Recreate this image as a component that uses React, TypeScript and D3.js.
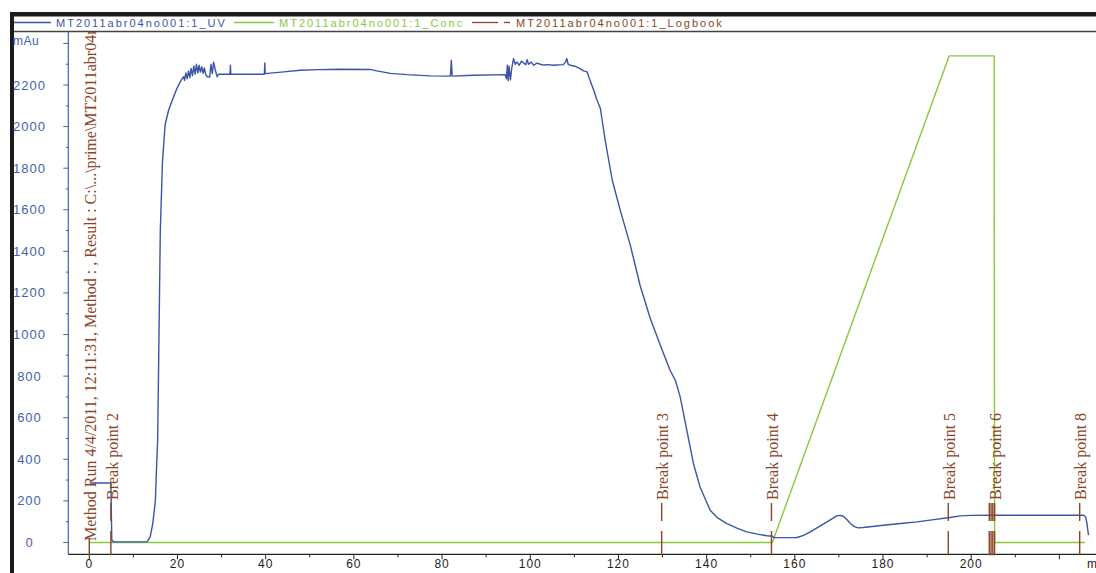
import React from 'react';
import * as d3 from 'd3';

// ---------- data ----------
const uvPoints: [number, number][] = [
  [0.2, 286], [4.9, 286], [5.0, 150], [5.1, 11], [5.6, 3], [13.1, 3], [13.8, 27], [14.4, 91],
  [15.0, 203], [15.2, 332], [15.5, 492], [15.7, 815], [15.9, 1150], [16.1, 1494], [16.6, 1833],
  [17.2, 2010], [18.0, 2080], [18.8, 2126], [19.8, 2180], [20.6, 2214], [21.0, 2228], [21.4, 2240],
  [21.6, 2222], [21.9, 2258], [22.2, 2230], [22.5, 2268], [22.8, 2236], [23.1, 2280], [23.4, 2245],
  [23.7, 2292], [24.0, 2252], [24.3, 2300], [24.6, 2258], [24.9, 2295], [25.2, 2262], [25.5, 2288],
  [25.8, 2256], [26.1, 2282], [26.4, 2250], [26.8, 2240], [27.3, 2238], [27.6, 2300], [27.9, 2255],
  [28.2, 2310], [28.6, 2270], [29.0, 2240], [29.3, 2252], [31.9, 2252], [32.0, 2295], [32.1, 2252],
  [39.7, 2252], [39.8, 2306], [39.9, 2255], [44.1, 2263], [47.8, 2271], [52.0, 2274], [56.9, 2276],
  [63.7, 2275], [65.2, 2268], [68.3, 2256], [72.0, 2250], [77.3, 2244], [81.9, 2243], [82.1, 2319],
  [82.3, 2243], [87.1, 2247], [94.3, 2250], [94.6, 2230], [94.8, 2295], [95.0, 2222], [95.2, 2290],
  [95.5, 2225], [95.8, 2280], [96.2, 2327], [96.6, 2300], [97.0, 2311], [97.5, 2295], [98.0, 2315],
  [98.5, 2305], [99.0, 2298], [99.3, 2322], [99.6, 2300], [100.2, 2310], [100.8, 2295], [101.5, 2305],
  [102.3, 2300], [103.0, 2296], [104.0, 2298], [105.3, 2295], [106.0, 2296], [107.5, 2298],
  [108.0, 2310], [108.3, 2327], [108.6, 2300], [109.1, 2295], [110.2, 2290], [111.3, 2279],
  [112.1, 2268], [112.9, 2263], [113.6, 2220], [114.4, 2175], [115.1, 2130], [115.9, 2087],
  [117.0, 1934], [118.6, 1742], [120.4, 1598], [122.7, 1429], [124.9, 1237], [127.2, 1078],
  [129.5, 949], [131.7, 828], [132.9, 780], [134.0, 700], [135.5, 540], [137.0, 380], [138.5, 267],
  [140.8, 155], [142.5, 118], [144.6, 91], [147.0, 68], [149.1, 51], [151.5, 40], [153.7, 32],
  [155.0, 30], [155.2, 24], [158.0, 23], [160.5, 24], [162.0, 34], [163.5, 51], [165.5, 76],
  [167.3, 99], [168.5, 115], [169.5, 128], [170.3, 130], [171.0, 126], [171.8, 110], [172.6, 91],
  [173.5, 76], [174.4, 70], [175.5, 72], [180.1, 83], [184.0, 91], [187.7, 99], [191.5, 110],
  [195.2, 120], [197.5, 128], [200.0, 130], [205.1, 131], [225.5, 131], [225.9, 124], [226.2, 98],
  [226.6, 35],
];

const concPoints: [number, number][] = [
  [0.2, 0], [154.9, 0], [195.0, 2340], [205.2, 2340], [205.3, 0], [225.8, 0],
];

const logTimes = [0, 4.9, 129.8, 154.7, 194.8, 204.1, 204.5, 204.9, 205.3, 224.6];
const logLabels = [
  'Method Run 4/4/2011, 12:11:31, Method : , Result : C:\\...\\prime\\MT2011abr04no001:1',
  'Break point 2', 'Break point 3', 'Break point 4', 'Break point 5',
  '', '', '', 'Break point 6', 'Break point 8',
];

const xMajorTicks = [0, 20, 40, 60, 80, 100, 120, 140, 160, 180, 200, 220];
const xLabelTicks = [0, 20, 40, 60, 80, 100, 120, 140, 160, 180, 200];
const xMinorTicks = [10, 30, 50, 70, 90, 110, 130, 150, 170, 190, 210];
const yMajorTicks = [0, 200, 400, 600, 800, 1000, 1200, 1400, 1600, 1800, 2000, 2200, 2400];
const yLabelTicks = [0, 200, 400, 600, 800, 1000, 1200, 1400, 1600, 1800, 2000, 2200];
const yMinorTicks = [100, 300, 500, 700, 900, 1100, 1300, 1500, 1700, 1900, 2100, 2300];

const legendNames = ['MT2011abr04no001:1_UV', 'MT2011abr04no001:1_Conc', 'MT2011abr04no001:1_Logbook'];
const yUnit = 'mAu';
const xUnit = 'ml';

// ---------- style ----------
const W = 1096;
const H = 573;
const BLUE = '#3b54a8';
const AXIS_BLUE = '#4462b2';
const GREEN = '#8cc63f';
const BROWN = '#8a4526';
const SANS = '"Liberation Sans", Arial, sans-serif';
const SERIF = '"Liberation Serif", "Times New Roman", serif';

export default function App() {
  const x = d3.scaleLinear().domain([-4.76, 228.3]).range([68.3, 1096]);
  const y = d3.scaleLinear().domain([-57, 2455]).range([554.3, 32]);
  const line = d3.line<[number, number]>().x((d) => x(d[0])).y((d) => y(d[1]));

  const plotLeft = x(-4.76);
  const axisY = y(-57);
  const plotTop = y(2455);

  return (
    <svg width={W} height={H} style={{ position: 'absolute', left: 0, top: 0, background: '#fff' }}>
      <defs>
        <clipPath id="plot">
          <rect x={plotLeft} y={plotTop} width={W - plotLeft} height={H - plotTop} />
        </clipPath>
      </defs>
      <rect x={0} y={0} width={W} height={H} fill="#fff" />

      {/* frame */}
      <rect x={10} y={12} width={W - 10} height={4.5} fill="#1c1c1c" />
      <rect x={10} y={12} width={4} height={H - 12} fill="#1c1c1c" />
      <line x1={14} x2={W} y1={31.5} y2={31.5} stroke="#444" strokeWidth={1.5} />

      {/* legend */}
      <g fontFamily={SANS} fontSize={11} letterSpacing={2}>
        <line x1={14} x2={51} y1={22.5} y2={22.5} stroke={BLUE} strokeWidth={1.3} />
        <text x={56} y={26.5} fill={BLUE}>{legendNames[0]}</text>
        <line x1={234} x2={274} y1={22.5} y2={22.5} stroke={GREEN} strokeWidth={1.3} />
        <text x={279} y={26.5} fill={GREEN}>{legendNames[1]}</text>
        <line x1={472} x2={498} y1={22.5} y2={22.5} stroke={BROWN} strokeWidth={1.3} />
        <line x1={504} x2={510} y1={22.5} y2={22.5} stroke={BROWN} strokeWidth={1.3} />
        <text x={516} y={26.5} fill={BROWN}>{legendNames[2]}</text>
      </g>

      {/* y axis */}
      <line x1={plotLeft} x2={plotLeft} y1={plotTop} y2={axisY} stroke={AXIS_BLUE} strokeWidth={1.2} />
      {yMajorTicks.map((v) => (
        <line key={'ym' + v} x1={plotLeft - 5} x2={plotLeft} y1={y(v)} y2={y(v)} stroke={AXIS_BLUE} strokeWidth={1} />
      ))}
      {yMinorTicks.map((v) => (
        <line key={'yn' + v} x1={plotLeft - 2.5} x2={plotLeft} y1={y(v)} y2={y(v)} stroke={AXIS_BLUE} strokeWidth={1} />
      ))}
      <g fontFamily={SANS} fontSize={13} fill={AXIS_BLUE} letterSpacing={1}>
        {yLabelTicks.map((v) => (
          <text key={'yl' + v} x={29.5} y={y(v)} textAnchor="middle" dominantBaseline="central">{v}</text>
        ))}
        <text x={13} y={y(2400) - 2} dominantBaseline="central" fontSize={12} letterSpacing={0.5}>{yUnit}</text>
      </g>

      {/* x axis */}
      <line x1={plotLeft} x2={W} y1={axisY} y2={axisY} stroke="#222" strokeWidth={1.3} />
      {xMajorTicks.map((v) => (
        <line key={'xm' + v} x1={x(v)} x2={x(v)} y1={axisY} y2={axisY + 5} stroke="#222" strokeWidth={1} />
      ))}
      {xMinorTicks.map((v) => (
        <line key={'xn' + v} x1={x(v)} x2={x(v)} y1={axisY} y2={axisY + 3} stroke="#222" strokeWidth={1} />
      ))}
      <g fontFamily={SANS} fontSize={12} fill="#222" letterSpacing={1}>
        {xLabelTicks.map((v) => (
          <text key={'xl' + v} x={x(v)} y={564} textAnchor="middle" dominantBaseline="central">{v}</text>
        ))}
        <text x={1087} y={564} dominantBaseline="central">{xUnit}</text>
      </g>

      {/* series */}
      <g clipPath="url(#plot)">
        <path d={line(concPoints) || ''} fill="none" stroke={GREEN} strokeWidth={1.4} />
        <path d={line(uvPoints) || ''} fill="none" stroke={BLUE} strokeWidth={1.4} strokeLinejoin="round" />

        {logTimes.map((t, i) => {
          const first = i === 0;
          const xb = x(t);
          const lineTop = first ? 538 : 503;
          return (
            <g key={'log' + i}>
              <line
                x1={xb} x2={xb} y1={lineTop} y2={axisY + 1}
                stroke={BROWN} strokeWidth={1.4}
                strokeDasharray={first ? undefined : '18 10 30'}
              />
              {logLabels[i] ? (
                <text
                  transform={`translate(${xb},${first ? 541 : 500}) rotate(-90)`}
                  dy="0.42em"
                  fontFamily={SERIF}
                  fontSize={16}
                  fill={BROWN}
                >
                  {logLabels[i]}
                </text>
              ) : null}
            </g>
          );
        })}
      </g>
    </svg>
  );
}
